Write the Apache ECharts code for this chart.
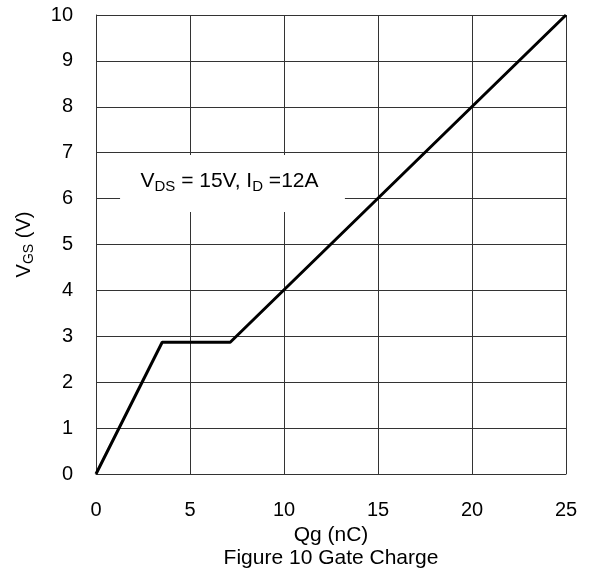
<!DOCTYPE html>
<html><head><meta charset="utf-8">
<script src="https://cdn.jsdelivr.net/npm/echarts@6/dist/echarts.min.js"></script>
<style>html,body{margin:0;padding:0;background:#fff}#c{width:592px;height:571px}</style>
</head><body><div id="c"></div>
<script>
const qg = [0, 3.52, 7.14, 25];
const vgs = [0, 2.87, 2.87, 10];
const xTicks = [0, 5, 10, 15, 20, 25];
const yTicks = [0,1,2,3,4,5,6,7,8,9,10];
const FONT = 'Liberation Sans, Arial, sans-serif';
const chart = echarts.init(document.getElementById('c'));
chart.setOption({
  animation: false,
  backgroundColor: '#fff',
  textStyle: {fontFamily: FONT},
  title: {text: 'Figure 10 Gate Charge', left: 326, top: 542, textAlign: 'center',
    textStyle: {fontFamily: FONT, fontSize: 21, fontWeight: 'normal', color: '#000', lineHeight: 22}},
  grid: {left: 96, top: 15, right: 26, bottom: 97, containLabel: false},
  xAxis: {type: 'value', min: 0, max: 25, interval: 5,
    name: 'Qg (nC)', nameLocation: 'middle', nameGap: 50,
    nameTextStyle: {fontFamily: FONT, fontSize: 21, color: '#000', lineHeight: 20},
    axisLine: {show: true, lineStyle: {color: '#333', width: 1}},
    axisTick: {show: false},
    axisLabel: {fontFamily: FONT, fontSize: 20, color: '#000', margin: 26},
    splitLine: {show: true, lineStyle: {color: '#333', width: 1}}},
  yAxis: {type: 'value', min: 0, max: 10, interval: 1,
    name: '{n|V}{s|GS}{n| (V)}', nameLocation: 'middle', nameGap: 60,
    nameTextStyle: {rich: {n: {fontFamily: FONT, fontSize: 20, color: '#000'},
      s: {fontFamily: FONT, fontSize: 14, color: '#000', verticalAlign: 'bottom', padding: [10,0,0,0]}}},
    axisLine: {show: true, lineStyle: {color: '#333', width: 1}},
    axisTick: {show: false},
    axisLabel: {fontFamily: FONT, fontSize: 20, color: '#000', margin: 23},
    splitLine: {show: true, lineStyle: {color: '#333', width: 1}}},
  series: [{
    type: 'line', data: qg.map((x, i) => [x, vgs[i]]), symbol: 'none',
    lineStyle: {color: '#000', width: 3}, z: 3,
    markArea: {silent: true, itemStyle: {color: '#fff', opacity: 1},
      label: {show: true, position: 'inside', offset: [-3, -2], formatter: '{n|V}{s|DS}{n| = 15V, I}{s|D}{n| =12A}',
        rich: {n: {fontFamily: FONT, fontSize: 21, color: '#000'},
               s: {fontFamily: FONT, fontSize: 15, color: '#000', verticalAlign: 'bottom', padding: [10,0,0,0]}}},
      data: [[{coord: [1.28, 5.71]}, {coord: [13.24, 6.95]}]]}
  }]
});
</script></body></html>
